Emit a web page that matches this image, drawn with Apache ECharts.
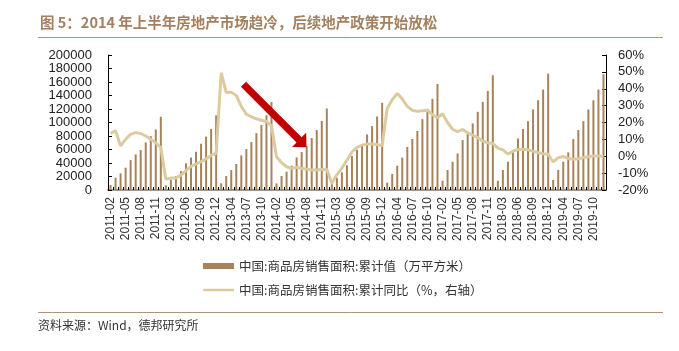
<!DOCTYPE html>
<html>
<head>
<meta charset="utf-8">
<script src="https://cdn.jsdelivr.net/npm/echarts@6/dist/echarts.min.js"></script>
<style>
  html, body { margin: 0; padding: 0; background: #fff; }
  #chart { width: 679px; height: 351px; }
</style>
</head>
<body>
<div id="chart"></div>
<script>
// 月份：每年 2 月（1-2 月合计）到 12 月
var years = [2011, 2012, 2013, 2014, 2015, 2016, 2017, 2018, 2019];
var months = ['02', '03', '04', '05', '06', '07', '08', '09', '10', '11', '12'];
var categories = [];
years.forEach(function (y) {
	months.forEach(function (m) { categories.push(y + '-' + m); });
});

// 商品房销售面积:累计值（万平方米）
var salesArea = [
	7400, 18200, 24600, 33000, 44300, 52700, 59100, 70500, 79800, 89700, 108400,
	7000, 14800, 20700, 28000, 39500, 48300, 56600, 68500, 79000, 90500, 110500,
	9900, 20700, 29600, 38500, 51300, 60600, 71000, 84300, 96100, 110800, 130500,
	9900, 20700, 27100, 36000, 48300, 56200, 65000, 76900, 88700, 102400, 120700,
	8500, 18200, 26100, 36500, 50200, 59600, 66500, 82300, 94600, 108900, 129000,
	10900, 23700, 36000, 47900, 63800, 75600, 87400, 105000, 120200, 135000, 157100,
	13800, 29600, 41900, 54200, 73900, 83800, 98600, 115800, 130600, 146800, 170000,
	13800, 29600, 41900, 56700, 76400, 90200, 102000, 119300, 133000, 148800, 172400,
	14800, 29600, 41900, 55700, 75400, 88700, 102000, 119300, 133000, 148800, 171400
];

// 商品房销售面积:累计同比（%）
var salesYoy = [
	13.5, 15.2, 6.2, 10.0, 13.0, 14.0, 13.5, 12.0, 10.0, 8.0, 5.0,
	-13.5, -13.0, -12.8, -11.2, -8.5, -6.0, -4.6, -3.2, -1.5, 0.5, 1.8,
	49.5, 37.8, 38.0, 36.0, 29.5, 25.0, 23.4, 22.2, 21.3, 20.6, 18.0,
	-0.3, -3.8, -6.2, -7.2, -6.6, -7.2, -7.7, -8.2, -8.2, -7.9, -7.7,
	-16.0, -11.0, -7.0, -2.2, 2.5, 5.3, 6.6, 7.2, 7.2, 7.0, 6.3,
	28.3, 33.5, 37.2, 34.0, 29.5, 27.3, 26.6, 26.9, 27.3, 24.6, 22.8,
	25.2, 20.0, 16.0, 14.6, 15.9, 13.9, 12.5, 11.0, 9.0, 8.0, 7.6,
	4.8, 3.8, 1.3, 3.0, 4.0, 4.1, 3.8, 3.0, 2.1, 1.5, 1.2,
	-3.4, -0.8, -0.1, -1.3, -1.8, -1.5, -0.8, -0.3, 0.1, 0.2, -0.1
];

var barName = '中国:商品房销售面积:累计值（万平方米）';
var lineName = '中国:商品房销售面积:累计同比（%，右轴）';

// 红色箭头（标注）：尾部中心、尖端
function arrowPoints(tail, tip, halfShaft, headLen, halfHead) {
	var dx = tip[0] - tail[0], dy = tip[1] - tail[1];
	var len = Math.sqrt(dx * dx + dy * dy);
	var ux = dx / len, uy = dy / len, nx = -uy, ny = ux;
	var bx = tip[0] - ux * headLen, by = tip[1] - uy * headLen;
	return [
		[tail[0] + nx * halfShaft, tail[1] + ny * halfShaft],
		[bx + nx * halfShaft, by + ny * halfShaft],
		[bx + nx * halfHead, by + ny * halfHead],
		tip,
		[bx - nx * halfHead, by - ny * halfHead],
		[bx - nx * halfShaft, by - ny * halfShaft],
		[tail[0] - nx * halfShaft, tail[1] - ny * halfShaft]
	];
}

var axisFont = 'Liberation Sans, Arial, sans-serif';
var cjkFont = 'Noto Sans CJK SC, sans-serif';

var chart = echarts.init(document.getElementById('chart'));
var option = {
	backgroundColor: '#fff',
	animation: false,
	textStyle: { fontFamily: axisFont },
	grid: { left: 108, right: 73, top: 55, bottom: 161 },
	legend: {
		orient: 'vertical',
		left: 203,
		top: 259,
		padding: 0,
		itemGap: 10,
		itemWidth: 31,
		itemHeight: 6,
		textStyle: { fontFamily: cjkFont, fontSize: 12.5, color: '#333', lineHeight: 14 },
		data: [
			{ name: barName, icon: 'rect' },
			{ name: lineName, icon: 'path://M0,0 H31 V2.5 H0 Z' }
		]
	},
	xAxis: {
		type: 'category',
		data: categories,
		axisLine: { lineStyle: { color: '#999', width: 2 } },
		axisTick: { show: true, inside: true, interval: 0, length: 3, lineStyle: { color: '#000' } },
		axisLabel: { interval: 2, rotate: 90, fontSize: 12, color: '#333', margin: 7 }
	},
	yAxis: [
		{
			type: 'value',
			min: 0,
			max: 200000,
			interval: 20000,
			splitLine: { show: false },
			axisLine: { show: true, lineStyle: { color: '#000' } },
			axisTick: { show: true, inside: true, length: 4, lineStyle: { color: '#000' } },
			axisLabel: { fontSize: 13, color: '#222', margin: 16, formatter: function (v) { return String(v); } }
		},
		{
			type: 'value',
			min: -20,
			max: 60,
			interval: 10,
			splitLine: { show: false },
			axisLine: { show: true, lineStyle: { color: '#000' } },
			axisTick: { show: true, inside: true, length: 4, lineStyle: { color: '#000' } },
			axisLabel: { fontSize: 13, color: '#222', margin: 12, formatter: '{value}%' }
		}
	],
	series: [
		{
			name: barName,
			type: 'bar',
			yAxisIndex: 0,
			barWidth: 2,
			itemStyle: { color: '#a6835b' },
			data: salesArea
		},
		{
			name: lineName,
			type: 'line',
			yAxisIndex: 1,
			symbol: 'none',
			z: 5,
			lineStyle: { color: '#dccb9f', width: 3 },
			itemStyle: { color: '#dccb9f' },
			data: salesYoy
		}
	],
	graphic: [
		{
			type: 'text', left: 40, top: 15,
			style: {
				text: '图 5：2014 年上半年房地产市场趋冷，后续地产政策开始放松',
				fill: '#a38060', fontFamily: cjkFont, fontSize: 14.5, fontWeight: 'bold'
			}
		},
		{
			type: 'line', shape: { x1: 38, y1: 37.5, x2: 663, y2: 37.5 },
			style: { stroke: '#b59274', lineWidth: 1 }
		},
		{
			type: 'line', shape: { x1: 38, y1: 312.5, x2: 663, y2: 312.5 },
			style: { stroke: '#b59274', lineWidth: 1 }
		},
		{
			type: 'text', left: 38, top: 319,
			style: { text: '资料来源：Wind，德邦研究所', fill: '#333', fontFamily: cjkFont, fontSize: 12 }
		},
		{
			type: 'polygon', z: 10,
			shape: { points: arrowPoints([243.5, 84.2], [306.5, 147.3], 3.6, 10.5, 10) },
			style: { fill: '#c00000' }
		}
	]
};
chart.setOption(option);
</script>
</body>
</html>
